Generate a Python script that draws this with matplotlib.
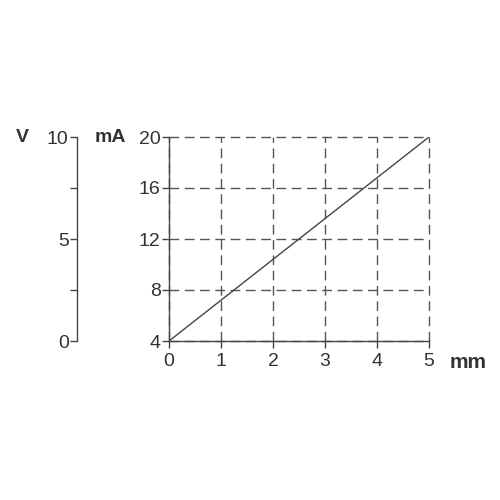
import matplotlib
matplotlib.use('Agg')
import matplotlib.pyplot as plt

plt.rcParams['font.family'] = ['Liberation Sans', 'DejaVu Sans']

# data
mm = [0, 5]
mA = [4, 20]
x_ticks = [0, 1, 2, 3, 4, 5]
ma_ticks = [4, 8, 12, 16, 20]
v_ticks = [0, 5, 10]
v_minor = [2.5, 7.5]

text_color = '#333333'
line_color = '#444444'
fs = 14

fig = plt.figure(figsize=(5, 5), dpi=100)

ax = fig.add_axes([0.338, 0.318, 0.52, 0.408])
ax.plot(mm, mA, color=line_color, linewidth=1.0)
ax.set_xlim(0, 5)
ax.set_ylim(4, 20)
ax.set_xticks(x_ticks)
ax.set_yticks(ma_ticks)
ax.grid(True, linestyle=(0, (7, 4)), color='#555555', linewidth=1.0)
for gl in ax.get_xgridlines() + ax.get_ygridlines():
    gl.set_clip_on(False)
for side in ['top', 'right']:
    ax.spines[side].set_visible(False)
for side in ['left', 'bottom']:
    ax.spines[side].set_color(line_color)
    ax.spines[side].set_linewidth(1.0)
ax.tick_params(direction='out', length=5, width=1.0, color=line_color,
               labelsize=fs, labelcolor=text_color)
ax.tick_params(axis='x', pad=4)
ax.tick_params(axis='y', pad=1)
ax.set_axisbelow(True)

# voltage scale
vax = fig.add_axes([0.154, 0.318, 0.0001, 0.408])
vax.set_ylim(0, 10)
vax.set_xticks([])
vax.set_yticks(v_ticks)
vax.set_yticks(v_minor, minor=True)
for side in ['top', 'right', 'bottom']:
    vax.spines[side].set_visible(False)
vax.spines['left'].set_color(line_color)
vax.spines['left'].set_linewidth(1.0)
vax.tick_params(which='both', direction='out', length=5, width=1.0,
                color=line_color, labelsize=fs, labelcolor=text_color, pad=1)
vax.patch.set_visible(False)

fig.text(0.044, 0.726, 'V', fontsize=fs, fontweight='bold', color=text_color,
         ha='center', va='center')
fig.text(0.22, 0.726, 'mA', fontsize=fs, fontweight='bold', color=text_color,
         ha='center', va='center')
fig.text(0.936, 0.276, 'mm', fontsize=fs + 1, fontweight='bold', color=text_color,
         ha='center', va='center')

fig.savefig('out.png', dpi=100)
